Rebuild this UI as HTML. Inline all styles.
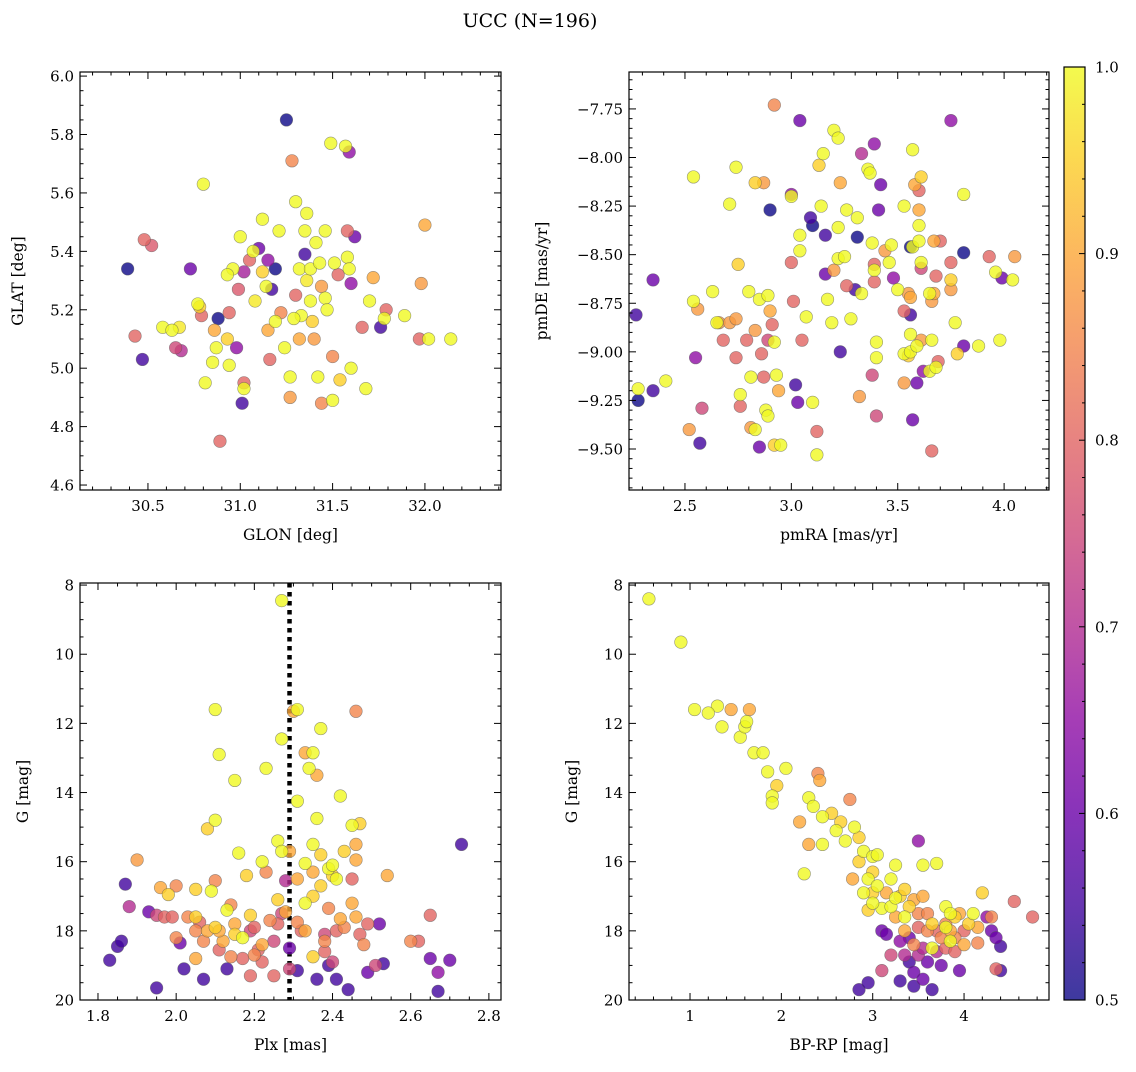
<!DOCTYPE html>
<html><head><meta charset="utf-8"><style>
body{margin:0;background:#fff}
svg text{font-family:"DejaVu Serif","Liberation Serif",serif;fill:#000}
</style></head><body>
<svg id="fig" xmlns="http://www.w3.org/2000/svg" width="1136" height="1067" viewBox="0 0 1136 1067">
<text x="530" y="27" font-size="19" text-anchor="middle">UCC (N=196)</text>
</svg>
<script>
const p1Data=[[30.39,5.34,.5],[30.47,5.03,.55],[30.43,5.11,.8],[30.48,5.44,.8],[30.52,5.42,.78],[30.58,5.14,1],[30.63,5.13,1],[30.67,5.14,.98],[30.65,5.07,.75],[30.68,5.06,.7],[30.73,5.34,.6],[30.77,5.22,1],[30.78,5.21,.95],[30.79,5.18,.8],[30.80,5.63,1],[30.81,4.95,1],[30.85,5.02,1],[30.86,5.13,.9],[30.87,5.07,1],[30.88,5.17,.5],[30.89,4.75,.8],[30.93,5.10,.95],[30.94,5.01,1],[30.94,5.19,.8],[30.98,5.07,.65],[30.99,5.27,.78],[31.01,4.88,.55],[31.00,5.45,1],[31.02,4.95,.8],[31.02,4.93,1],[31.05,5.37,.8],[31.02,5.33,.68],[31.07,5.40,1],[31.10,5.41,.6],[31.12,5.51,1],[31.12,5.33,.95],[31.15,5.37,.65],[31.14,5.28,1],[31.15,5.13,.9],[31.16,5.03,.8],[31.17,5.27,.55],[31.19,5.16,1],[31.21,5.47,1],[31.24,5.07,1],[31.25,5.85,.5],[31.28,5.71,.85],[31.27,4.97,1],[31.27,4.90,.88],[31.30,5.57,1],[31.30,5.25,.8],[31.32,5.34,1],[31.33,5.18,1],[31.32,5.10,.9],[31.36,5.53,1],[31.35,5.47,1],[31.35,5.39,.55],[31.38,5.34,1],[31.38,5.23,1],[31.39,5.16,.95],[31.40,5.10,.88],[31.41,5.43,1],[31.42,4.97,1],[31.43,5.36,1],[31.44,5.28,.88],[31.46,5.24,1],[31.46,5.47,1],[31.49,5.77,1],[31.50,5.04,.85],[31.50,4.89,1],[31.44,4.88,.85],[31.51,5.36,1],[31.53,5.32,.8],[31.54,4.96,.95],[31.57,5.76,1],[31.58,5.47,.8],[31.59,5.74,.65],[31.58,5.38,1],[31.59,5.34,1],[31.60,5.29,.65],[31.60,5.00,1],[31.62,5.45,.6],[31.66,5.14,.8],[31.68,4.93,1],[31.70,5.23,1],[31.72,5.31,.9],[31.76,5.14,.55],[31.79,5.20,.8],[31.78,5.17,1],[31.89,5.18,1],[31.98,5.29,.88],[32.00,5.49,.9],[31.97,5.10,.8],[32.02,5.10,1],[32.14,5.10,1],[30.96,5.34,1],[31.19,5.34,.5],[30.93,5.32,1],[31.29,5.17,1],[31.36,5.30,.98],[31.08,5.23,.98],[31.22,5.19,.85],[31.47,5.20,1]];
const p2Data=[[2.27,-8.81,.55],[2.28,-9.19,1],[2.28,-9.25,.5],[2.35,-8.63,.6],[2.35,-9.20,.55],[2.41,-9.15,1],[2.52,-9.40,.88],[2.54,-8.10,1],[2.54,-8.74,1],[2.55,-9.03,.65],[2.56,-8.78,.88],[2.57,-9.47,.55],[2.58,-9.29,.75],[2.63,-8.69,1],[2.65,-8.85,1],[2.66,-8.85,.88],[2.68,-8.94,.8],[2.71,-8.85,.88],[2.71,-8.24,1],[2.74,-8.05,1],[2.74,-8.83,.88],[2.74,-9.03,.8],[2.75,-8.55,.95],[2.76,-9.22,1],[2.76,-9.28,.8],[2.79,-8.94,.8],[2.80,-8.69,1],[2.81,-9.13,1],[2.81,-9.39,.88],[2.83,-9.40,1],[2.83,-8.13,.95],[2.83,-8.89,.88],[2.85,-9.49,.6],[2.85,-8.73,1],[2.86,-9.01,.8],[2.87,-9.13,.8],[2.87,-8.13,.88],[2.88,-9.30,1],[2.89,-9.33,1],[2.89,-8.71,1],[2.89,-8.94,.75],[2.90,-8.79,.9],[2.91,-8.86,.8],[2.92,-7.73,.85],[2.92,-8.95,1],[2.93,-9.12,1],[2.94,-9.20,.9],[2.95,-9.48,1],[2.92,-9.48,.95],[2.90,-8.27,.5],[3.00,-8.20,1],[3.00,-8.19,.65],[3.00,-8.54,.8],[3.01,-8.74,.8],[3.02,-9.17,.55],[3.03,-9.26,.6],[3.04,-7.81,.6],[3.04,-8.40,1],[3.04,-8.48,1],[3.05,-8.94,.8],[3.07,-8.82,1],[3.09,-8.31,.55],[3.10,-8.35,.5],[3.10,-9.26,1],[3.12,-9.41,.8],[3.12,-9.53,1],[3.13,-8.04,.95],[3.14,-8.25,1],[3.15,-7.98,1],[3.16,-8.60,.6],[3.16,-8.40,.55],[3.17,-8.73,1],[3.19,-8.85,1],[3.20,-7.86,1],[3.22,-7.90,1],[3.22,-8.36,1],[3.22,-8.52,1],[3.20,-8.58,.88],[3.23,-9.00,.55],[3.23,-8.13,.9],[3.25,-8.51,1],[3.26,-8.27,1],[3.26,-8.66,.8],[3.28,-8.83,1],[3.30,-8.68,.55],[3.31,-8.41,.5],[3.31,-8.31,1],[3.32,-9.23,.88],[3.33,-8.70,1],[3.33,-7.98,.7],[3.36,-8.06,1],[3.37,-8.08,1],[3.38,-8.44,1],[3.39,-7.93,.65],[3.39,-8.55,.8],[3.39,-8.64,.8],[3.39,-8.58,1],[3.38,-9.12,.75],[3.40,-9.33,.75],[3.40,-9.03,1],[3.40,-8.95,1],[3.41,-8.27,.6],[3.42,-8.14,.6],[3.44,-8.48,.88],[3.46,-8.54,1],[3.47,-8.45,1],[3.48,-8.62,.65],[3.50,-8.68,1],[3.53,-8.25,1],[3.53,-9.01,1],[3.53,-8.79,.8],[3.53,-9.16,.88],[3.55,-8.70,.88],[3.55,-9.02,.95],[3.56,-8.81,.55],[3.56,-8.91,1],[3.56,-9.00,1],[3.57,-9.35,.6],[3.56,-8.72,.9],[3.57,-7.96,1],[3.56,-8.46,.5],[3.57,-8.46,1],[3.58,-8.14,.9],[3.60,-8.17,.8],[3.60,-8.27,.9],[3.60,-8.35,1],[3.61,-8.10,.95],[3.59,-9.16,.6],[3.60,-8.43,1],[3.61,-8.54,1],[3.59,-8.97,1],[3.61,-8.57,.75],[3.61,-8.94,.88],[3.62,-9.10,.65],[3.65,-9.10,1],[3.65,-8.70,1],[3.66,-9.51,.8],[3.67,-8.70,.9],[3.66,-8.94,1],[3.68,-9.08,1],[3.69,-9.05,.8],[3.66,-8.74,.88],[3.67,-8.43,.9],[3.68,-8.61,.8],[3.70,-8.43,.8],[3.75,-7.81,.65],[3.75,-8.54,.8],[3.75,-8.63,.95],[3.75,-8.68,.88],[3.77,-8.85,1],[3.78,-9.01,.95],[3.81,-8.19,1],[3.81,-8.97,.6],[3.81,-8.49,.5],[3.88,-8.97,1],[3.93,-8.51,.8],[3.96,-8.59,1],[3.98,-8.94,1],[4.05,-8.51,.88],[3.99,-8.62,.6],[4.04,-8.63,1]];
const p3Data=[[1.83,18.85,.55],[1.85,18.45,.55],[1.86,18.3,.55],[1.87,16.65,.55],[1.88,17.3,.7],[1.90,15.95,.88],[1.93,17.45,.6],[1.95,17.55,.75],[1.95,19.65,.55],[1.96,16.75,.9],[1.97,17.6,.8],[1.98,16.95,.95],[1.99,17.6,.8],[2.0,16.7,.85],[2.0,18.2,.85],[2.01,18.35,.6],[2.02,19.1,.55],[2.03,17.6,.85],[2.05,17.6,.95],[2.05,18.0,.85],[2.05,18.8,.9],[2.05,16.8,.95],[2.06,17.75,.8],[2.07,18.3,.85],[2.07,19.4,.55],[2.08,15.05,.95],[2.08,18.0,.9],[2.09,16.85,1],[2.10,14.8,1],[2.10,11.6,1],[2.10,16.55,.85],[2.1,17.9,.95],[2.11,12.9,1],[2.11,18.55,.8],[2.12,18.3,.9],[2.13,17.4,1],[2.13,19.1,.55],[2.14,17.25,.85],[2.14,18.75,.85],[2.15,17.8,.9],[2.15,18.1,.95],[2.15,13.65,1],[2.16,15.75,1],[2.17,18.2,1],[2.18,16.4,.95],[2.19,18.0,.75],[2.19,17.55,.95],[2.2,17.9,.8],[2.2,18.7,.85],[2.21,18.55,.8],[2.22,16.0,1],[2.22,18.4,.9],[2.23,13.3,1],[2.23,16.3,.85],[2.24,17.7,.85],[2.25,18.3,.75],[2.25,19.3,.8],[2.26,17.8,.8],[2.26,15.4,1],[2.27,12.45,1],[2.27,17.5,.75],[2.27,15.7,1],[2.28,16.55,.7],[2.28,17.45,.9],[2.29,15.7,.9],[2.29,18.5,.6],[2.29,19.1,.75],[2.27,8.45,1],[2.31,11.6,1],[2.31,14.25,1],[2.31,16.5,.9],[2.31,17.75,.85],[2.31,19.15,.55],[2.30,11.65,.9],[2.32,18.0,.8],[2.33,12.85,.9],[2.33,16.05,1],[2.33,17.2,1],[2.33,18.0,.9],[2.34,13.3,1],[2.35,12.85,1],[2.35,15.5,1],[2.35,16.3,.9],[2.35,17.0,.95],[2.35,18.75,.95],[2.36,13.5,.9],[2.36,14.75,1],[2.36,19.4,.55],[2.37,12.15,1],[2.37,15.8,.95],[2.37,16.7,.95],[2.38,18.3,.85],[2.38,18.6,.8],[2.39,16.2,1],[2.39,17.35,.85],[2.39,19.0,.55],[2.4,16.1,1],[2.4,16.4,.95],[2.41,16.5,1],[2.41,18.0,.8],[2.41,19.4,.55],[2.42,14.1,1],[2.42,17.65,.9],[2.43,15.7,.95],[2.43,17.9,.85],[2.44,19.7,.55],[2.45,16.5,.8],[2.45,14.95,1],[2.45,17.2,.9],[2.46,11.65,.85],[2.46,15.5,.9],[2.46,15.95,.9],[2.47,14.9,.95],[2.46,17.6,.9],[2.47,18.1,.8],[2.48,18.4,.85],[2.49,17.8,.8],[2.49,19.2,.6],[2.51,19.0,.75],[2.52,17.8,.6],[2.53,18.95,.55],[2.54,16.4,.9],[2.6,18.3,.85],[2.62,18.3,.8],[2.67,19.75,.55],[2.65,18.8,.6],[2.67,19.2,.65],[2.70,18.85,.6],[2.73,15.5,.55],[2.65,17.55,.8],[2.26,17.1,.95],[2.22,18.9,.8],[2.17,18.8,.8],[2.19,19.3,.8],[2.11,18.0,.9],[2.38,18.1,.75],[2.4,18.9,.75]];
const p4Data=[[0.55,8.4,1],[0.9,9.65,1],[1.05,11.6,1],[1.3,11.5,1],[1.2,11.7,1],[1.45,11.6,.9],[1.35,12.1,1],[1.55,12.4,1],[1.6,12.1,1],[1.62,11.95,1],[1.65,11.6,.9],[1.7,12.85,1],[1.8,12.85,1],[1.85,13.4,1],[1.9,14.1,1],[1.9,14.3,1],[1.95,13.8,.95],[2.05,13.3,1],[2.2,14.85,.9],[2.3,14.15,1],[2.25,16.35,1],[2.35,14.4,1],[2.3,15.5,.9],[2.4,13.45,.85],[2.42,13.65,.9],[2.45,14.7,1],[2.45,15.5,1],[2.55,14.6,.95],[2.6,15.1,1],[2.65,14.85,.95],[2.7,15.4,1],[2.75,14.2,.85],[2.8,15.0,1],[2.78,16.5,.9],[2.85,15.3,.95],[2.85,16.0,.95],[2.9,15.7,1],[2.9,16.9,1],[2.95,16.5,1],[3.0,15.85,1],[3.0,16.3,.95],[3.05,15.8,1],[3.05,16.7,1],[3.1,17.35,1],[3.1,18.0,.6],[3.1,19.15,.75],[3.15,16.9,.9],[3.2,17.3,1],[3.2,16.5,1],[3.25,17.05,1],[3.25,17.6,.9],[3.3,17.0,.95],[3.3,18.3,.65],[3.35,17.6,1],[3.35,18.0,.9],[3.4,17.3,.95],[3.4,18.2,.6],[3.45,17.1,.9],[3.45,19.2,.6],[3.5,15.4,.65],[3.5,17.5,.85],[3.5,17.9,.8],[3.5,18.7,.7],[3.55,16.1,1],[3.55,17.0,.9],[3.55,18.5,.7],[3.6,17.5,.85],[3.6,18.9,.6],[3.65,17.8,.95],[3.65,18.5,1],[3.7,16.05,1],[3.7,18.0,.8],[3.75,18.2,.85],[3.75,19.0,.6],[3.8,17.3,1],[3.8,17.8,.85],[3.8,18.5,.8],[3.85,18.0,.9],[3.85,18.3,1],[3.9,17.6,.95],[3.9,18.6,.8],[3.95,17.5,.9],[3.95,19.15,.6],[4.0,18.0,.8],[4.0,18.4,.9],[4.05,17.8,.95],[4.1,17.5,1],[4.15,17.9,.9],[4.2,16.9,.95],[4.25,17.6,.65],[4.3,18.0,.6],[4.35,19.1,.8],[4.4,18.45,.55],[4.4,19.15,.55],[4.55,17.15,.8],[4.75,17.6,.8],[2.85,19.7,.55],[2.95,19.5,.55],[3.45,19.6,.55],[3.65,19.7,.55],[3.55,19.4,.6],[3.3,19.45,.55],[3.2,18.7,.75],[3.4,18.9,.55],[3.8,17.9,1],[3.9,18.2,.85],[3.7,18.6,.7],[3.6,18.0,.85],[3.45,18.4,.85],[3.35,18.7,.7],[3.85,17.5,1],[4.15,18.35,.85],[4.35,18.2,.6],[4.3,17.6,.85],[3.15,18.1,.6],[3.0,17.2,1],[2.95,17.4,.95],[3.25,16.1,1],[3.35,16.8,.95],[3.0,16.9,.95]];
const plxMean=2.29;
const cbTicks=[0.5,0.6,0.7,0.8,0.9,1.0];

const NS='http://www.w3.org/2000/svg';
const svg=document.getElementById('fig');
function mk(tag,attrs,parent){const e=document.createElementNS(NS,tag);for(const k in attrs)e.setAttribute(k,attrs[k]);(parent||svg).appendChild(e);return e;}
const stops=['#0d0887','#41049d','#6a00a8','#8f0da4','#b12a90','#cc4778','#e16462','#f2844b','#fca636','#fcce25','#f0f921'];
function hex(h){return [1,3,5].map(i=>parseInt(h.substr(i,2),16));}
function plasma(t){t=Math.max(0,Math.min(1,t));const f=t*10,i=Math.min(9,Math.floor(f)),u=f-i;const a=hex(stops[i]),b=hex(stops[i+1]);return 'rgb('+a.map((v,k)=>Math.round(v+(b[k]-v)*u)).join(',')+')';}
function fmt(v,d){return v.toFixed(d).replace('-','\u2212');}
function panel(o){
  const g=mk('g',{});
  
  
  const sx=v=>o.x0+(v-o.xmin)/(o.xmax-o.xmin)*(o.x1-o.x0);
  const sy=v=>o.yinv? o.y0+(v-o.ymin)/(o.ymax-o.ymin)*(o.y1-o.y0) : o.y1-(v-o.ymin)/(o.ymax-o.ymin)*(o.y1-o.y0);
  const clipId='c'+o.name;
  const cp=mk('clipPath',{id:clipId},g);mk('rect',{x:o.x0,y:o.y0,width:o.x1-o.x0,height:o.y1-o.y0},cp);
  if(o.vline!==undefined){const l=mk('line',{x1:sx(o.vline),x2:sx(o.vline),y1:o.y0,y2:o.y1,stroke:'#000','stroke-width':4.5,'stroke-dasharray':'4.5,4.5'},g);}
  const pts=mk('g',{'clip-path':'url(#'+clipId+')'},g);
  
  
  const data=o.data.slice().sort((a,b)=>a[2]-b[2]);
  data.forEach(d=>{
    const c=mk('circle',{cx:sx(d[0]),cy:sy(d[1]),r:6.3,fill:plasma((d[2]-0.5)/0.5),'fill-opacity':0.8,stroke:'#555','stroke-opacity':0.6,'stroke-width':0.6},pts);
    
    
  });
  mk('rect',{x:o.x0,y:o.y0,width:o.x1-o.x0,height:o.y1-o.y0,fill:'none',stroke:'#000','stroke-width':1.2},g);
  const ax=mk('g',{},g);
  const eps=1e-9;
  for(let v=Math.ceil(o.xmin/o.xmn-eps)*o.xmn;v<=o.xmax+eps;v+=o.xmn){const X=sx(v);const maj=Math.abs(v/o.xmj-Math.round(v/o.xmj))<1e-6;const L=maj?7:3.5;
    mk('line',{x1:X,x2:X,y1:o.y1,y2:o.y1-L,stroke:'#000'},ax);mk('line',{x1:X,x2:X,y1:o.y0,y2:o.y0+L,stroke:'#000'},ax);
    if(maj){const t=mk('text',{x:X,y:o.y1+21,'font-size':15,'text-anchor':'middle'},ax);t.textContent=fmt(v,o.xd);}}
  for(let v=Math.ceil(o.ymin/o.ymn-eps)*o.ymn;v<=o.ymax+eps;v+=o.ymn){const Y=sy(v);const maj=Math.abs(v/o.ymj-Math.round(v/o.ymj))<1e-6;const L=maj?7:3.5;
    mk('line',{x1:o.x0,x2:o.x0+L,y1:Y,y2:Y,stroke:'#000'},ax);mk('line',{x1:o.x1,x2:o.x1-L,y1:Y,y2:Y,stroke:'#000'},ax);
    if(maj){const t=mk('text',{x:o.x0-6,y:Y+5.5,'font-size':15,'text-anchor':'end'},ax);t.textContent=fmt(v,o.yd);}}
  const xt=mk('text',{x:(o.x0+o.x1)/2,y:o.y1+50,'font-size':15.5,'text-anchor':'middle'},g);xt.textContent=o.xl;
  
  const cy=(o.y0+o.y1)/2;const yt=mk('text',{x:o.ylx,y:cy,'font-size':15.5,'text-anchor':'middle',transform:'rotate(-90 '+o.ylx+' '+cy+')'},g);yt.textContent=o.yl;
  
}
panel({name:'glon-glat-panel',data:p1Data,x0:80,x1:501,y0:72,y1:490,xmin:30.132,xmax:32.412,ymin:4.583,ymax:6.014,xmj:0.5,xmn:0.1,ymj:0.2,ymn:0.05,xd:1,yd:1,xl:'GLON [deg]',yl:'GLAT [deg]',ylx:23});
panel({name:'pm-panel',data:p2Data,x0:629,x1:1049,y0:72,y1:490,xmin:2.237,xmax:4.211,ymin:-9.711,ymax:-7.56,xmj:0.5,xmn:0.1,ymj:0.25,ymn:0.05,xd:1,yd:2,xl:'pmRA [mas/yr]',yl:'pmDE [mas/yr]',ylx:547});
panel({name:'plx-g-panel',data:p3Data,x0:80,x1:501,y0:583,y1:1000,xmin:1.754,xmax:2.831,ymin:7.94,ymax:20,yinv:true,xmj:0.2,xmn:0.05,ymj:2,ymn:0.5,xd:1,yd:0,xl:'Plx [mas]',yl:'G [mag]',ylx:28,vline:plxMean});
panel({name:'cmd-panel',data:p4Data,x0:629,x1:1049,y0:583,y1:1000,xmin:0.332,xmax:4.93,ymin:7.94,ymax:20,yinv:true,xmj:1,xmn:0.2,ymj:2,ymn:0.5,xd:0,yd:0,xl:'BP-RP [mag]',yl:'G [mag]',ylx:577});
const cb=mk('g',{});
const gr=mk('linearGradient',{id:'pl',x1:0,y1:1,x2:0,y2:0},cb);
stops.forEach((s,i)=>mk('stop',{offset:i/10,'stop-color':s,'stop-opacity':0.8},gr));
const cx0=1064,cx1=1085,cy0=67,cy1=1000;
mk('rect',{x:cx0,y:cy0,width:cx1-cx0,height:cy1-cy0,fill:'url(#pl)',stroke:'#000','stroke-width':1.2},cb);
const cby=v=>cy1-(v-0.5)/0.5*(cy1-cy0);
for(let v=0.5;v<=1.0001;v+=0.02){const Y=cby(v);const maj=Math.abs(v*10-Math.round(v*10))<1e-6;mk('line',{x1:cx1,x2:cx1-(maj?6:3),y1:Y,y2:Y,stroke:'#000'},cb);}
cbTicks.forEach(v=>{const t=mk('text',{x:cx1+10,y:cby(v)+5.5,'font-size':15},cb);t.textContent=v.toFixed(1);});
</script>
</body></html>
